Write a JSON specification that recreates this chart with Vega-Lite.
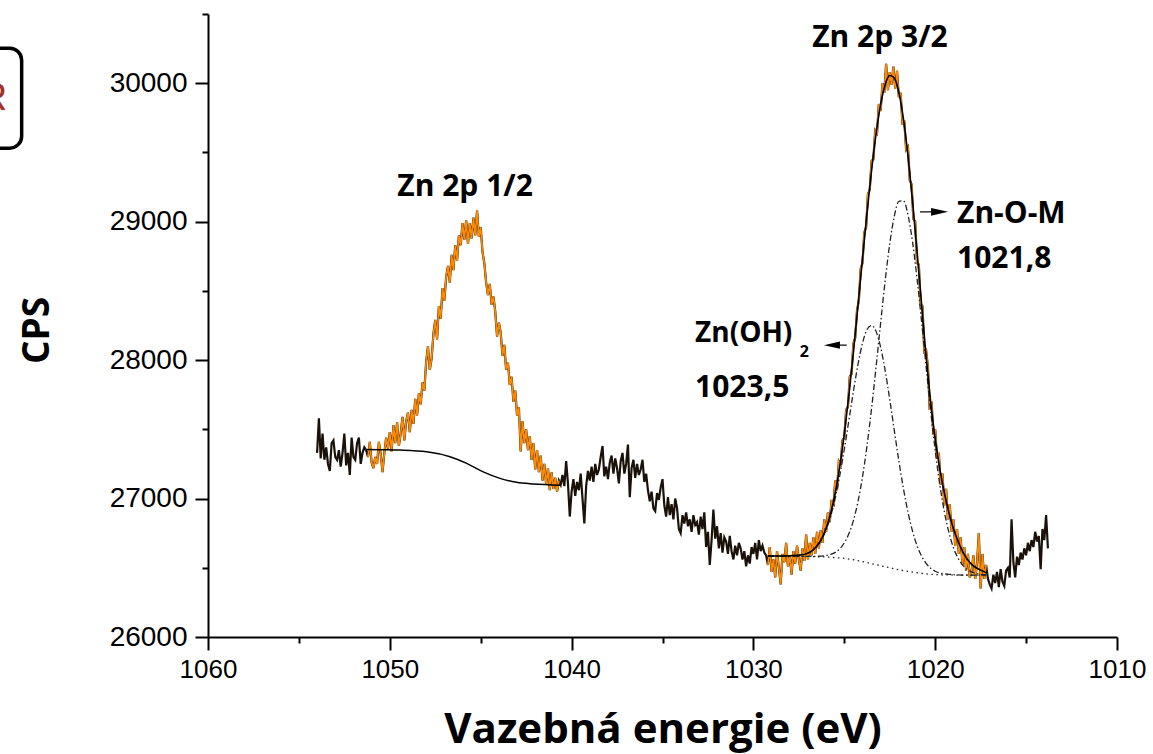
{
"$schema":"https://vega.github.io/schema/vega-lite/v6.json",
"width":909,"height":623,
"autosize":{"type":"none"},
"padding":{"left":208,"top":14,"right":36,"bottom":117},
"background":"white",
"config":{"view":{"stroke":null},"font":"Liberation Sans"},
"datasets":{
"one":[{}],
"raw":[
{"e":1054.0,"c":27330},{"e":1053.9,"c":27580},{"e":1053.8,"c":27290},{"e":1053.7,"c":27470},{"e":1053.6,"c":27280},{"e":1053.5,"c":27370},{"e":1053.4,"c":27250},{"e":1053.3,"c":27200},{"e":1053.2,"c":27400},{"e":1053.1,"c":27420},{"e":1053.0,"c":27300},{"e":1052.9,"c":27280},{"e":1052.8,"c":27350},{"e":1052.7,"c":27230},{"e":1052.6,"c":27330},{"e":1052.5,"c":27470},{"e":1052.4,"c":27240},{"e":1052.3,"c":27330},{"e":1052.2,"c":27170},{"e":1052.1,"c":27440},{"e":1052.0,"c":27300},{"e":1051.9,"c":27280},{"e":1051.8,"c":27400},{"e":1051.7,"c":27440},{"e":1051.6,"c":27250},{"e":1051.5,"c":27330},{"e":1051.4,"c":27370},{"e":1051.3,"c":27350},
{"e":1051.2,"c":27300},{"e":1051.1,"c":27410},{"e":1051.0,"c":27260},{"e":1050.9,"c":27220},{"e":1050.8,"c":27300},{"e":1050.7,"c":27250},{"e":1050.6,"c":27410},{"e":1050.5,"c":27320},{"e":1050.4,"c":27190},{"e":1050.3,"c":27330},{"e":1050.2,"c":27440},{"e":1050.1,"c":27360},{"e":1050.0,"c":27480},{"e":1049.9,"c":27340},{"e":1049.8,"c":27530},{"e":1049.7,"c":27400},{"e":1049.6,"c":27550},{"e":1049.5,"c":27380},{"e":1049.4,"c":27470},{"e":1049.3,"c":27590},{"e":1049.2,"c":27420},{"e":1049.1,"c":27560},{"e":1049.0,"c":27620},{"e":1048.9,"c":27480},{"e":1048.8,"c":27640},{"e":1048.7,"c":27540},{"e":1048.6,"c":27720},{"e":1048.5,"c":27600},{"e":1048.4,"c":27760},{"e":1048.3,"c":27680},{"e":1048.2,"c":27840},{"e":1048.1,"c":27780},{"e":1048.0,"c":27990},{"e":1047.9,"c":28100},{"e":1047.8,"c":27930},{"e":1047.7,"c":28010},{"e":1047.6,"c":28190},{"e":1047.5,"c":28290},{"e":1047.4,"c":28150},{"e":1047.3,"c":28390},{"e":1047.2,"c":28300},{"e":1047.1,"c":28520},{"e":1047.0,"c":28430},{"e":1046.9,"c":28600},{"e":1046.8,"c":28680},{"e":1046.7,"c":28560},{"e":1046.6,"c":28760},{"e":1046.5,"c":28650},{"e":1046.4,"c":28830},{"e":1046.3,"c":28720},{"e":1046.2,"c":28900},{"e":1046.1,"c":28830},{"e":1046.0,"c":28990},{"e":1045.9,"c":28870},{"e":1045.8,"c":29010},{"e":1045.7,"c":28840},{"e":1045.6,"c":28990},{"e":1045.5,"c":28880},{"e":1045.4,"c":29030},{"e":1045.3,"c":28900},{"e":1045.2,"c":29080},{"e":1045.1,"c":28890},{"e":1045.0,"c":28960},{"e":1044.9,"c":28780},{"e":1044.8,"c":28700},{"e":1044.7,"c":28560},{"e":1044.6,"c":28470},{"e":1044.5,"c":28550},{"e":1044.4,"c":28400},{"e":1044.3,"c":28460},{"e":1044.2,"c":28350},{"e":1044.1,"c":28170},{"e":1044.0,"c":28270},{"e":1043.9,"c":28200},{"e":1043.8,"c":28030},{"e":1043.7,"c":28110},{"e":1043.6,"c":27930},{"e":1043.5,"c":27980},{"e":1043.4,"c":27820},{"e":1043.3,"c":27880},{"e":1043.2,"c":27700},{"e":1043.1,"c":27780},{"e":1043.0,"c":27600},{"e":1042.9,"c":27660},{"e":1042.8,"c":27340},{"e":1042.7,"c":27560},{"e":1042.6,"c":27400},{"e":1042.5,"c":27500},{"e":1042.4,"c":27350},{"e":1042.3,"c":27450},{"e":1042.2,"c":27280},{"e":1042.1,"c":27400},{"e":1042.0,"c":27210},{"e":1041.9,"c":27350},{"e":1041.8,"c":27190},{"e":1041.7,"c":27310},{"e":1041.6,"c":27130},{"e":1041.5,"c":27250},{"e":1041.4,"c":27100},{"e":1041.3,"c":27220},{"e":1041.2,"c":27060},{"e":1041.1,"c":27190},{"e":1041.0,"c":27070},{"e":1040.9,"c":27150},{"e":1040.8,"c":27050},{"e":1040.7,"c":27130},
{"e":1040.6,"c":27100},{"e":1040.5,"c":27170},{"e":1040.4,"c":27090},{"e":1040.3,"c":27270},{"e":1040.2,"c":27110},{"e":1040.1,"c":26870},{"e":1040.0,"c":27050},{"e":1039.9,"c":27140},{"e":1039.8,"c":27020},{"e":1039.7,"c":27120},{"e":1039.6,"c":27060},{"e":1039.5,"c":27180},{"e":1039.4,"c":27000},{"e":1039.3,"c":26820},{"e":1039.2,"c":27090},{"e":1039.1,"c":27200},{"e":1039.0,"c":27130},{"e":1038.9,"c":27230},{"e":1038.8,"c":27120},{"e":1038.7,"c":27250},{"e":1038.6,"c":27170},{"e":1038.5,"c":27210},{"e":1038.4,"c":27300},{"e":1038.3,"c":27380},{"e":1038.2,"c":27160},{"e":1038.1,"c":27230},{"e":1038.0,"c":27140},{"e":1037.9,"c":27260},{"e":1037.8,"c":27310},{"e":1037.7,"c":27180},{"e":1037.6,"c":27290},{"e":1037.5,"c":27220},{"e":1037.4,"c":27110},{"e":1037.3,"c":27270},{"e":1037.2,"c":27330},{"e":1037.1,"c":27180},{"e":1037.0,"c":27250},{"e":1036.9,"c":27390},{"e":1036.8,"c":27010},{"e":1036.7,"c":27220},{"e":1036.6,"c":27280},{"e":1036.5,"c":27150},{"e":1036.4,"c":27250},{"e":1036.3,"c":27170},{"e":1036.2,"c":27210},{"e":1036.1,"c":27280},{"e":1036.0,"c":27120},{"e":1035.9,"c":27180},{"e":1035.8,"c":27060},{"e":1035.7,"c":26980},{"e":1035.6,"c":27050},{"e":1035.5,"c":26930},{"e":1035.4,"c":26910},{"e":1035.3,"c":27040},{"e":1035.2,"c":26990},{"e":1035.1,"c":27080},{"e":1035.0,"c":27140},{"e":1034.9,"c":26950},{"e":1034.8,"c":26870},{"e":1034.7,"c":27010},{"e":1034.6,"c":26880},{"e":1034.5,"c":26960},{"e":1034.4,"c":26850},{"e":1034.3,"c":27000},{"e":1034.2,"c":26930},{"e":1034.1,"c":26780},{"e":1034.0,"c":26750},{"e":1033.9,"c":26880},{"e":1033.8,"c":26820},{"e":1033.7,"c":26900},{"e":1033.6,"c":26800},{"e":1033.5,"c":26850},{"e":1033.4,"c":26760},{"e":1033.3,"c":26880},{"e":1033.2,"c":26810},{"e":1033.1,"c":26830},{"e":1033.0,"c":26740},{"e":1032.9,"c":26870},{"e":1032.8,"c":26780},{"e":1032.7,"c":26900},{"e":1032.6,"c":26650},{"e":1032.5,"c":26760},{"e":1032.4,"c":26520},{"e":1032.3,"c":26700},{"e":1032.2,"c":26920},{"e":1032.1,"c":26710},{"e":1032.0,"c":26800},{"e":1031.9,"c":26640},{"e":1031.8,"c":26750},{"e":1031.7,"c":26610},{"e":1031.6,"c":26720},{"e":1031.5,"c":26690},{"e":1031.4,"c":26600},{"e":1031.3,"c":26730},{"e":1031.2,"c":26620},{"e":1031.1,"c":26560},{"e":1031.0,"c":26660},{"e":1030.9,"c":26590},{"e":1030.8,"c":26680},{"e":1030.7,"c":26640},{"e":1030.6,"c":26560},{"e":1030.5,"c":26620},{"e":1030.4,"c":26510},{"e":1030.3,"c":26590},{"e":1030.2,"c":26530},{"e":1030.1,"c":26650},{"e":1030.0,"c":26600},{"e":1029.9,"c":26680},{"e":1029.8,"c":26560},{"e":1029.7,"c":26700},{"e":1029.6,"c":26620},{"e":1029.5,"c":26660},{"e":1029.4,"c":26610},{"e":1029.3,"c":26590},
{"e":1029.2,"c":26520},{"e":1029.1,"c":26650},{"e":1029.0,"c":26470},{"e":1028.9,"c":26560},{"e":1028.8,"c":26430},{"e":1028.7,"c":26620},{"e":1028.6,"c":26500},{"e":1028.5,"c":26380},{"e":1028.4,"c":26600},{"e":1028.3,"c":26540},{"e":1028.2,"c":26680},{"e":1028.1,"c":26510},{"e":1028.0,"c":26590},{"e":1027.9,"c":26450},{"e":1027.8,"c":26620},{"e":1027.7,"c":26530},{"e":1027.6,"c":26660},{"e":1027.5,"c":26560},{"e":1027.4,"c":26480},{"e":1027.3,"c":26640},{"e":1027.2,"c":26550},{"e":1027.1,"c":26740},{"e":1027.0,"c":26560},{"e":1026.9,"c":26680},{"e":1026.8,"c":26590},{"e":1026.7,"c":26720},{"e":1026.6,"c":26600},{"e":1026.5,"c":26760},{"e":1026.4,"c":26640},{"e":1026.3,"c":26770},{"e":1026.2,"c":26680},{"e":1026.1,"c":26850},{"e":1026.0,"c":26760},{"e":1025.9,"c":26900},{"e":1025.8,"c":26830},{"e":1025.7,"c":26990},{"e":1025.6,"c":26940},{"e":1025.5,"c":27130},{"e":1025.4,"c":27060},{"e":1025.3,"c":27270},{"e":1025.2,"c":27250},{"e":1025.1,"c":27420},{"e":1025.0,"c":27440},{"e":1024.9,"c":27640},{"e":1024.8,"c":27660},{"e":1024.7,"c":27880},{"e":1024.6,"c":27900},{"e":1024.5,"c":28120},{"e":1024.4,"c":28160},{"e":1024.3,"c":28360},{"e":1024.2,"c":28430},{"e":1024.1,"c":28660},{"e":1024.0,"c":28700},{"e":1023.9,"c":28920},{"e":1023.8,"c":28960},{"e":1023.7,"c":29200},{"e":1023.6,"c":29230},{"e":1023.5,"c":29440},{"e":1023.4,"c":29450},{"e":1023.3,"c":29660},{"e":1023.2,"c":29640},{"e":1023.1,"c":29850},{"e":1023.0,"c":29800},{"e":1022.9,"c":30000},{"e":1022.8,"c":29930},{"e":1022.7,"c":30140},{"e":1022.6,"c":29950},{"e":1022.5,"c":30080},{"e":1022.4,"c":29990},{"e":1022.3,"c":30120},{"e":1022.2,"c":29960},{"e":1022.1,"c":30090},{"e":1022.0,"c":29900},{"e":1021.9,"c":29930},{"e":1021.8,"c":29700},{"e":1021.7,"c":29730},{"e":1021.6,"c":29520},{"e":1021.5,"c":29540},{"e":1021.4,"c":29300},{"e":1021.3,"c":29270},{"e":1021.2,"c":29020},{"e":1021.1,"c":29000},{"e":1021.0,"c":28700},{"e":1020.9,"c":28690},{"e":1020.8,"c":28400},{"e":1020.7,"c":28390},{"e":1020.6,"c":28060},{"e":1020.5,"c":28070},{"e":1020.4,"c":27950},{"e":1020.3,"c":27640},{"e":1020.2,"c":27700},{"e":1020.1,"c":27460},{"e":1020.0,"c":27500},{"e":1019.9,"c":27290},{"e":1019.8,"c":27330},{"e":1019.7,"c":27100},{"e":1019.6,"c":27180},{"e":1019.5,"c":26950},{"e":1019.4,"c":27070},{"e":1019.3,"c":26850},{"e":1019.2,"c":26960},{"e":1019.1,"c":26760},{"e":1019.0,"c":26850},{"e":1018.9,"c":26660},{"e":1018.8,"c":26780},{"e":1018.7,"c":26600},{"e":1018.6,"c":26720},{"e":1018.5,"c":26520},{"e":1018.4,"c":26650},{"e":1018.3,"c":26480},{"e":1018.2,"c":26600},{"e":1018.1,"c":26430},{"e":1018.0,"c":26470},{"e":1017.9,"c":26590},{"e":1017.8,"c":26420},{"e":1017.7,"c":26530},{"e":1017.6,"c":26750},{"e":1017.5,"c":26350},{"e":1017.4,"c":26600},{"e":1017.3,"c":26420},{"e":1017.2,"c":26520},
{"e":1017.1,"c":26420},{"e":1017.0,"c":26380},{"e":1016.9,"c":26350},{"e":1016.8,"c":26450},{"e":1016.7,"c":26390},{"e":1016.6,"c":26470},{"e":1016.5,"c":26360},{"e":1016.4,"c":26490},{"e":1016.3,"c":26400},{"e":1016.2,"c":26370},{"e":1016.1,"c":26480},{"e":1016.0,"c":26500},{"e":1015.9,"c":26430},{"e":1015.8,"c":26850},{"e":1015.7,"c":26540},{"e":1015.6,"c":26430},{"e":1015.5,"c":26580},{"e":1015.4,"c":26520},{"e":1015.3,"c":26610},{"e":1015.2,"c":26560},{"e":1015.1,"c":26640},{"e":1015.0,"c":26590},{"e":1014.9,"c":26680},{"e":1014.8,"c":26620},{"e":1014.7,"c":26700},{"e":1014.6,"c":26650},{"e":1014.5,"c":26760},{"e":1014.4,"c":26690},{"e":1014.3,"c":26730},{"e":1014.2,"c":26490},{"e":1014.1,"c":26780},{"e":1014.0,"c":26700},{"e":1013.9,"c":26880},{"e":1013.8,"c":26640}
],
"fit":[
{"s":"bg1","e":1051.27,"c":27355},{"s":"bg1","e":1050.5,"c":27353},{"s":"bg1","e":1049.44,"c":27350},{"s":"bg1","e":1047.97,"c":27338},{"s":"bg1","e":1046.69,"c":27302},{"s":"bg1","e":1045.77,"c":27254},{"s":"bg1","e":1044.86,"c":27193},{"s":"bg1","e":1043.94,"c":27146},{"s":"bg1","e":1043.03,"c":27117},{"s":"bg1","e":1042.11,"c":27105},{"s":"bg1","e":1040.64,"c":27097},
{"s":"bg","e":1029.2,"c":26585},{"s":"bg","e":1029,"c":26585},{"s":"bg","e":1028.5,"c":26585},{"s":"bg","e":1028,"c":26585},{"s":"bg","e":1027.5,"c":26584},{"s":"bg","e":1027,"c":26582},{"s":"bg","e":1026.5,"c":26580},{"s":"bg","e":1026,"c":26578},{"s":"bg","e":1025.5,"c":26573},{"s":"bg","e":1025,"c":26568},{"s":"bg","e":1024.5,"c":26558},{"s":"bg","e":1024,"c":26545},{"s":"bg","e":1023.5,"c":26530},{"s":"bg","e":1023,"c":26515},{"s":"bg","e":1022.5,"c":26500},{"s":"bg","e":1022,"c":26486},{"s":"bg","e":1021.5,"c":26474},{"s":"bg","e":1021,"c":26464},{"s":"bg","e":1020.5,"c":26456},{"s":"bg","e":1020,"c":26451},{"s":"bg","e":1019.5,"c":26449},{"s":"bg","e":1019,"c":26448},{"s":"bg","e":1018.5,"c":26447},{"s":"bg","e":1018,"c":26447},{"s":"bg","e":1017.5,"c":26447},{"s":"bg","e":1017.2,"c":26447},
{"s":"znoh","e":1029.2,"c":26585},{"s":"znoh","e":1029,"c":26585},{"s":"znoh","e":1028.5,"c":26585},{"s":"znoh","e":1028,"c":26587},{"s":"znoh","e":1027.5,"c":26591},{"s":"znoh","e":1027,"c":26606},{"s":"znoh","e":1026.75,"c":26625},{"s":"znoh","e":1026.5,"c":26656},{"s":"znoh","e":1026.25,"c":26704},{"s":"znoh","e":1026,"c":26774},{"s":"znoh","e":1025.75,"c":26873},{"s":"znoh","e":1025.5,"c":27002},{"s":"znoh","e":1025.25,"c":27165},{"s":"znoh","e":1025,"c":27355},{"s":"znoh","e":1024.75,"c":27563},{"s":"znoh","e":1024.5,"c":27773},{"s":"znoh","e":1024.25,"c":27967},{"s":"znoh","e":1024,"c":28122},{"s":"znoh","e":1023.75,"c":28221},{"s":"znoh","e":1023.5,"c":28250},{"s":"znoh","e":1023.25,"c":28206},{"s":"znoh","e":1023,"c":28092},{"s":"znoh","e":1022.75,"c":27923},{"s":"znoh","e":1022.5,"c":27715},{"s":"znoh","e":1022.25,"c":27493},{"s":"znoh","e":1022,"c":27273},{"s":"znoh","e":1021.75,"c":27074},{"s":"znoh","e":1021.5,"c":26903},{"s":"znoh","e":1021.25,"c":26766},{"s":"znoh","e":1021,"c":26660},{"s":"znoh","e":1020.75,"c":26585},{"s":"znoh","e":1020.5,"c":26532},{"s":"znoh","e":1020.25,"c":26497},{"s":"znoh","e":1020,"c":26475},{"s":"znoh","e":1019.75,"c":26463},{"s":"znoh","e":1019.5,"c":26456},{"s":"znoh","e":1019.25,"c":26453},{"s":"znoh","e":1019,"c":26450},{"s":"znoh","e":1018.5,"c":26447},{"s":"znoh","e":1018,"c":26447},{"s":"znoh","e":1017.2,"c":26447},
{"s":"znom","e":1029.2,"c":26585},{"s":"znom","e":1028,"c":26585},{"s":"znom","e":1027,"c":26582},{"s":"znom","e":1026.5,"c":26583},{"s":"znom","e":1026,"c":26589},{"s":"znom","e":1025.75,"c":26597},{"s":"znom","e":1025.5,"c":26611},{"s":"znom","e":1025.25,"c":26637},{"s":"znom","e":1025,"c":26680},{"s":"znom","e":1024.75,"c":26745},{"s":"znom","e":1024.5,"c":26841},{"s":"znom","e":1024.25,"c":26976},{"s":"znom","e":1024,"c":27156},{"s":"znom","e":1023.75,"c":27382},{"s":"znom","e":1023.5,"c":27651},{"s":"znom","e":1023.25,"c":27954},{"s":"znom","e":1023,"c":28270},{"s":"znom","e":1022.75,"c":28576},{"s":"znom","e":1022.5,"c":28841},{"s":"znom","e":1022.25,"c":29039},{"s":"znom","e":1022,"c":29147},{"s":"znom","e":1021.75,"c":29151},{"s":"znom","e":1021.5,"c":29051},{"s":"znom","e":1021.25,"c":28857},{"s":"znom","e":1021,"c":28591},{"s":"znom","e":1020.75,"c":28280},{"s":"znom","e":1020.5,"c":27952},{"s":"znom","e":1020.25,"c":27634},{"s":"znom","e":1020,"c":27347},{"s":"znom","e":1019.75,"c":27103},{"s":"znom","e":1019.5,"c":26907},{"s":"znom","e":1019.25,"c":26757},{"s":"znom","e":1019,"c":26647},{"s":"znom","e":1018.75,"c":26572},{"s":"znom","e":1018.5,"c":26521},{"s":"znom","e":1018.25,"c":26489},{"s":"znom","e":1018,"c":26470},{"s":"znom","e":1017.5,"c":26453},{"s":"znom","e":1017.2,"c":26449},
{"s":"env","e":1029.2,"c":26585},{"s":"env","e":1029,"c":26585},{"s":"env","e":1028.5,"c":26585},{"s":"env","e":1028,"c":26587},{"s":"env","e":1027.5,"c":26591},{"s":"env","e":1027,"c":26606},{"s":"env","e":1026.75,"c":26626},{"s":"env","e":1026.5,"c":26659},{"s":"env","e":1026.25,"c":26709},{"s":"env","e":1026,"c":26785},{"s":"env","e":1025.75,"c":26894},{"s":"env","e":1025.5,"c":27040},{"s":"env","e":1025.25,"c":27231},{"s":"env","e":1025,"c":27467},{"s":"env","e":1024.75,"c":27745},{"s":"env","e":1024.5,"c":28056},{"s":"env","e":1024.25,"c":28391},{"s":"env","e":1024,"c":28733},{"s":"env","e":1023.75,"c":29065},{"s":"env","e":1023.5,"c":29371},{"s":"env","e":1023.25,"c":29637},{"s":"env","e":1023,"c":29847},{"s":"env","e":1022.75,"c":29991},{"s":"env","e":1022.5,"c":30056},{"s":"env","e":1022.25,"c":30039},{"s":"env","e":1022,"c":29934},{"s":"env","e":1021.75,"c":29745},{"s":"env","e":1021.5,"c":29480},{"s":"env","e":1021.25,"c":29154},{"s":"env","e":1021,"c":28787},{"s":"env","e":1020.75,"c":28405},{"s":"env","e":1020.5,"c":28028},{"s":"env","e":1020.25,"c":27698},{"s":"env","e":1020,"c":27431},{"s":"env","e":1019.75,"c":27216},{"s":"env","e":1019.5,"c":27044},{"s":"env","e":1019.25,"c":26901},{"s":"env","e":1019,"c":26784},{"s":"env","e":1018.75,"c":26693},{"s":"env","e":1018.5,"c":26621},{"s":"env","e":1018.25,"c":26564},{"s":"env","e":1018,"c":26525},{"s":"env","e":1017.5,"c":26483},{"s":"env","e":1017.2,"c":26465}
]
},
"resolve":{"axis":{"x":"independent","y":"independent"}},
"layer":[
{"data":{"name":"raw"},
 "mark":{"type":"line","color":"#1a1208","strokeWidth":2.2},
 "encoding":{
  "x":{"field":"e","type":"quantitative","scale":{"domain":[1010,1060],"reverse":true,"nice":false,"zero":false},
   "axis":{"values":[1060,1050,1040,1030,1020,1010],"format":"d","grid":false,"domainColor":"black","domainWidth":2,"tickColor":"black","tickWidth":2,"tickSize":13,"labelFont":"Liberation Sans","labelFontSize":26,"labelColor":"black","labelPadding":6,"labelFlush":false,"labelOverlap":false,
    "title":"Vazebná energie (eV)","titleFont":"Open Sans","titleFontWeight":"bold","titleFontSize":42,"titleColor":"black","titleBaseline":"alphabetic","titleY":105}},
  "y":{"field":"c","type":"quantitative","scale":{"domain":[26000,30500],"nice":false,"zero":false},
   "axis":{"values":[26000,27000,28000,29000,30000],"format":"d","grid":false,"domainColor":"black","domainWidth":2,"tickColor":"black","tickWidth":2,"tickSize":13,"labelFont":"Liberation Sans","labelFontSize":28,"labelColor":"black","labelPadding":8,"labelFlush":false,"labelOverlap":false,
    "title":"CPS","titleFont":"Open Sans","titleFontWeight":"bold","titleFontSize":37,"titleColor":"black","titleBaseline":"alphabetic","titleX":-160,"titleY":316,"titleAngle":270}}
 }},
{"data":{"name":"raw"},
 "mark":{"type":"point","opacity":0},
 "encoding":{
  "x":{"field":"e","type":"quantitative","axis":{"orient":"bottom","values":[1055,1045,1035,1025,1015],"labels":false,"domain":false,"grid":false,"tickColor":"black","tickWidth":2,"tickSize":6,"title":null}},
  "y":{"field":"c","type":"quantitative","axis":{"orient":"left","values":[26500,27500,28500,29500,30500],"labels":false,"domain":false,"grid":false,"tickColor":"black","tickWidth":2,"tickSize":6,"title":null}}
 }},
{"data":{"name":"raw"},
 "transform":[{"filter":"datum.e >= 1040.65 && datum.e <= 1051.25"}],
 "mark":{"type":"line","color":"#ff8a00","strokeWidth":1.7},
 "encoding":{"x":{"field":"e","type":"quantitative","axis":null},"y":{"field":"c","type":"quantitative","axis":null}}},
{"data":{"name":"raw"},
 "transform":[{"filter":"datum.e >= 1017.15 && datum.e <= 1029.25"}],
 "mark":{"type":"line","color":"#ff8a00","strokeWidth":1.7},
 "encoding":{"x":{"field":"e","type":"quantitative","axis":null},"y":{"field":"c","type":"quantitative","axis":null}}},
{"data":{"name":"fit"},
 "transform":[{"filter":"datum.s == 'bg1'"}],
 "mark":{"type":"line","color":"black","strokeWidth":1.5,"interpolate":"monotone"},
 "encoding":{"x":{"field":"e","type":"quantitative","axis":null},"y":{"field":"c","type":"quantitative","axis":null}}},
{"data":{"name":"fit"},
 "transform":[{"filter":"datum.s == 'bg'"}],
 "mark":{"type":"line","color":"#222222","strokeWidth":1.3,"strokeDash":[1.5,3.5],"interpolate":"monotone"},
 "encoding":{"x":{"field":"e","type":"quantitative","axis":null},"y":{"field":"c","type":"quantitative","axis":null}}},
{"data":{"name":"fit"},
 "transform":[{"filter":"datum.s == 'znoh' || datum.s == 'znom'"}],
 "mark":{"type":"line","color":"#222222","strokeWidth":1.3,"strokeDash":[6,2.5,1.5,2.5],"interpolate":"monotone"},
 "encoding":{"x":{"field":"e","type":"quantitative","axis":null},"y":{"field":"c","type":"quantitative","axis":null},"detail":{"field":"s"}}},
{"data":{"name":"fit"},
 "transform":[{"filter":"datum.s == 'env'"}],
 "mark":{"type":"line","color":"black","strokeWidth":1.6,"interpolate":"monotone"},
 "encoding":{"x":{"field":"e","type":"quantitative","axis":null},"y":{"field":"c","type":"quantitative","axis":null}}},
{"data":{"name":"one"},"mark":{"type":"text","font":"Open Sans","fontWeight":"bold","fontSize":30,"color":"black","align":"center","baseline":"middle"},
 "encoding":{"x":{"datum":1045.86,"type":"quantitative","axis":null},"y":{"datum":29249,"type":"quantitative","axis":null},"text":{"value":"Zn 2p 1/2"}}},
{"data":{"name":"one"},"mark":{"type":"text","font":"Open Sans","fontWeight":"bold","fontSize":30,"color":"black","align":"center","baseline":"middle"},
 "encoding":{"x":{"datum":1023.04,"type":"quantitative","axis":null},"y":{"datum":30325,"type":"quantitative","axis":null},"text":{"value":"Zn 2p 3/2"}}},
{"data":{"name":"one"},"mark":{"type":"text","font":"Open Sans","fontWeight":"bold","fontSize":30,"color":"black","align":"left","baseline":"middle"},
 "encoding":{"x":{"datum":1018.8,"type":"quantitative","axis":null},"y":{"datum":29054,"type":"quantitative","axis":null},"text":{"value":"Zn-O-M"}}},
{"data":{"name":"one"},"mark":{"type":"text","font":"Open Sans","fontWeight":"bold","fontSize":30,"color":"black","align":"left","baseline":"middle"},
 "encoding":{"x":{"datum":1018.8,"type":"quantitative","axis":null},"y":{"datum":28729,"type":"quantitative","axis":null},"text":{"value":"1021,8"}}},
{"data":{"name":"one"},"mark":{"type":"text","font":"Open Sans","fontWeight":"bold","fontSize":28,"color":"black","align":"left","baseline":"middle"},
 "encoding":{"x":{"datum":1033.21,"type":"quantitative","axis":null},"y":{"datum":28188,"type":"quantitative","axis":null},"text":{"value":"Zn(OH)"}}},
{"data":{"name":"one"},"mark":{"type":"text","font":"Open Sans","fontWeight":"bold","fontSize":16,"color":"black","align":"left","baseline":"middle"},
 "encoding":{"x":{"datum":1027.45,"type":"quantitative","axis":null},"y":{"datum":28058,"type":"quantitative","axis":null},"text":{"value":"2"}}},
{"data":{"name":"one"},"mark":{"type":"text","font":"Open Sans","fontWeight":"bold","fontSize":30,"color":"black","align":"left","baseline":"middle"},
 "encoding":{"x":{"datum":1033.21,"type":"quantitative","axis":null},"y":{"datum":27798,"type":"quantitative","axis":null},"text":{"value":"1023,5"}}},
{"data":{"name":"one"},"mark":{"type":"rule","color":"#333333","strokeWidth":1.5},
 "encoding":{"x":{"datum":1020.84,"type":"quantitative","axis":null},"x2":{"datum":1020.2},"y":{"datum":29071,"type":"quantitative","axis":null}}},
{"data":{"name":"one"},"mark":{"type":"point","shape":"M-1,-0.45L1,0L-1,0.45Z","filled":true,"color":"black","size":289,"opacity":1},
 "encoding":{"x":{"datum":1019.76,"type":"quantitative","axis":null},"y":{"datum":29071,"type":"quantitative","axis":null}}},
{"data":{"name":"one"},"mark":{"type":"rule","color":"#333333","strokeWidth":1.5},
 "encoding":{"x":{"datum":1024.87,"type":"quantitative","axis":null},"x2":{"datum":1025.3},"y":{"datum":28108,"type":"quantitative","axis":null}}},
{"data":{"name":"one"},"mark":{"type":"point","shape":"M1,-0.45L-1,0L1,0.45Z","filled":true,"color":"black","size":256,"opacity":1},
 "encoding":{"x":{"datum":1025.68,"type":"quantitative","axis":null},"y":{"datum":28108,"type":"quantitative","axis":null}}},
{"data":{"name":"one"},"mark":{"type":"rect","fillOpacity":0,"stroke":"black","strokeWidth":3.5,"cornerRadius":12},
 "encoding":{"x":{"datum":1072.6,"type":"quantitative","axis":null},"x2":{"datum":1070.25},"y":{"datum":30253,"type":"quantitative","axis":null},"y2":{"datum":29531}}},
{"data":{"name":"one"},"mark":{"type":"text","font":"Liberation Sans","fontSize":38,"color":"#a3302b","align":"right","baseline":"alphabetic"},
 "encoding":{"x":{"datum":1071.05,"type":"quantitative","axis":null},"y":{"datum":29805,"type":"quantitative","axis":null},"text":{"value":"R"}}}
]
}
